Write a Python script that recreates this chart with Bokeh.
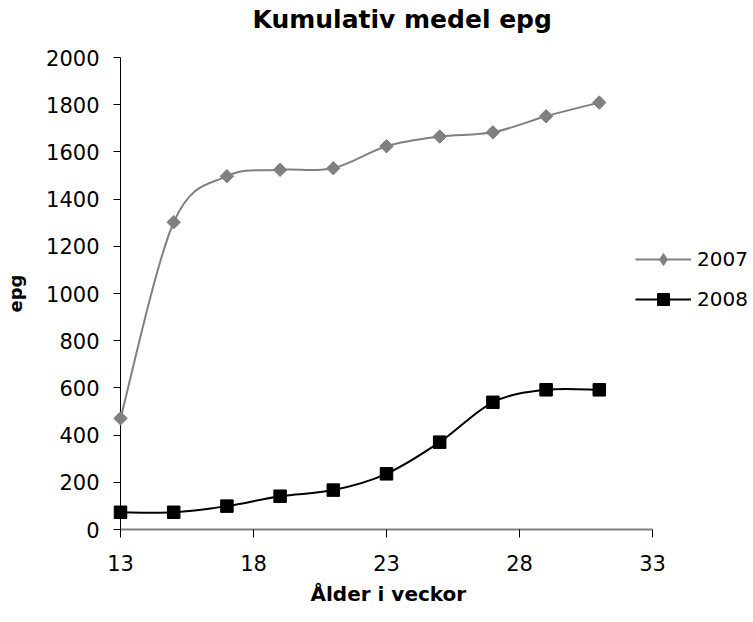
import numpy as np
from bokeh.plotting import figure
from bokeh.models import (Range1d, FixedTicker, Legend, LegendItem, ColumnDataSource,
                          Title)
from bokeh.embed import file_html
from bokeh.resources import INLINE

# ---- data ----
weeks = [13, 15, 17, 19, 21, 23, 25, 27, 29, 31]
epg_2007 = [471, 1302, 1497, 1524, 1531, 1624, 1665, 1683, 1751, 1809]
epg_2008 = [73, 73, 99, 141, 167, 236, 370, 539, 592, 592]
series_names = ["2007", "2008"]
x_ticks = [13, 18, 23, 28, 33]
y_ticks = list(range(0, 2001, 200))

FONT = "DejaVu Sans"


def smooth_segments(xs, ys):
    """Cubic Bezier control points (Catmull-Rom style, like Excel's smoothed line)."""
    xs = np.asarray(xs, float)
    ys = np.asarray(ys, float)
    n = len(xs)
    d = dict(x0=[], y0=[], x1=[], y1=[], cx0=[], cy0=[], cx1=[], cy1=[])
    for i in range(n - 1):
        im = max(i - 1, 0)
        ip2 = min(i + 2, n - 1)
        d["x0"].append(xs[i]); d["y0"].append(ys[i])
        d["x1"].append(xs[i + 1]); d["y1"].append(ys[i + 1])
        d["cx0"].append(xs[i] + (xs[i + 1] - xs[im]) / 6)
        d["cy0"].append(ys[i] + (ys[i + 1] - ys[im]) / 6)
        d["cx1"].append(xs[i + 1] - (xs[ip2] - xs[i]) / 6)
        d["cy1"].append(ys[i + 1] - (ys[ip2] - ys[i]) / 6)
    return ColumnDataSource(d)


# axis 13..33 spans 532 px; the frame is extended to the right to host the legend
px_per_unit = 532 / 20.0
x_max = 33 + 101 / px_per_unit

p = figure(width=753, height=622, output_backend="svg", toolbar_location=None,
           x_range=Range1d(13, x_max), y_range=Range1d(0, 2000),
           min_border_left=120, min_border_right=0, min_border_top=57,
           min_border_bottom=93, title="Kumulativ medel epg")
p.outline_line_color = None
p.grid.visible = False
p.background_fill_color = "white"
p.border_fill_color = "white"

p.title.align = "left"
p.title.offset = 132
p.title.vertical_align = "top"
p.title.standoff = 0
p.title.padding = dict(top=0, right=0, bottom=22, left=0)
p.title.text_font = FONT
p.title.text_font_size = "25px"
p.title.text_font_style = "bold"
p.title.text_color = "black"

# axes
p.xaxis.ticker = FixedTicker(ticks=x_ticks)
p.yaxis.ticker = FixedTicker(ticks=y_ticks)
p.xaxis.bounds = (13, 33)
for ax in (p.xaxis[0], p.yaxis[0]):
    ax.major_label_text_font = FONT
    ax.major_label_text_font_size = "21px"
    ax.major_label_text_color = "black"
    ax.axis_label_text_font = FONT
    ax.axis_label_text_font_style = "bold"
    ax.axis_label_text_font_size = "18px"
    ax.axis_label_text_color = "black"
    ax.minor_tick_line_color = None
    ax.major_tick_in = 0
    ax.major_tick_line_color = "black"
    ax.major_tick_line_width = 1

p.yaxis.axis_label = "epg"
p.xaxis.axis_line_color = "#808080"
p.xaxis.axis_line_width = 2
p.yaxis.axis_line_color = "black"
p.yaxis.axis_line_width = 1
p.xaxis.major_tick_out = 8
p.yaxis.major_tick_out = 7
p.xaxis.major_label_standoff = 17
p.yaxis.major_label_standoff = 14
p.yaxis.axis_label_standoff = 17

# x-axis title, placed below the tick labels and aligned to the 13..33 axis
xtitle = Title(text="Ålder i veckor", align="left", offset=190,
               vertical_align="top", standoff=17, text_font=FONT,
               text_font_size="20px", text_font_style="bold", text_color="black")
p.add_layout(xtitle, "below")

# series
src07 = smooth_segments(weeks, epg_2007)
src08 = smooth_segments(weeks, epg_2008)

b07 = p.bezier(x0="x0", y0="y0", x1="x1", y1="y1", cx0="cx0", cy0="cy0",
               cx1="cx1", cy1="cy1", source=src07, line_color="#808080",
               line_width=2, level="overlay")
m07 = p.scatter(weeks, epg_2007, marker="square", angle=np.pi / 4, size=9.5,
                fill_color="#808080", line_color="#808080", level="overlay")
b08 = p.bezier(x0="x0", y0="y0", x1="x1", y1="y1", cx0="cx0", cy0="cy0",
               cx1="cx1", cy1="cy1", source=src08, line_color="black",
               line_width=2, level="overlay")
m08 = p.scatter(weeks, epg_2008, marker="square", size=12.5,
                fill_color="black", line_color="black", level="overlay")

# legend-only diamond key (legend ignores marker angle); hidden in the plot
key07 = p.scatter(weeks, epg_2007, marker="diamond", size=21,
                  fill_color="#808080", line_color="#808080", visible=False)

legend = Legend(items=[LegendItem(label=series_names[0], renderers=[b07, key07]),
                       LegendItem(label=series_names[1], renderers=[b08, m08])],
                location=(515, 215), orientation="vertical",
                border_line_color=None, background_fill_alpha=0,
                padding=0, margin=0, spacing=10,
                glyph_width=56, glyph_height=30, label_height=30,
                label_standoff=6, label_text_font=FONT,
                label_text_font_size="20px", label_text_color="black")
p.add_layout(legend)

open("out.html", "w").write(file_html(p, INLINE))
